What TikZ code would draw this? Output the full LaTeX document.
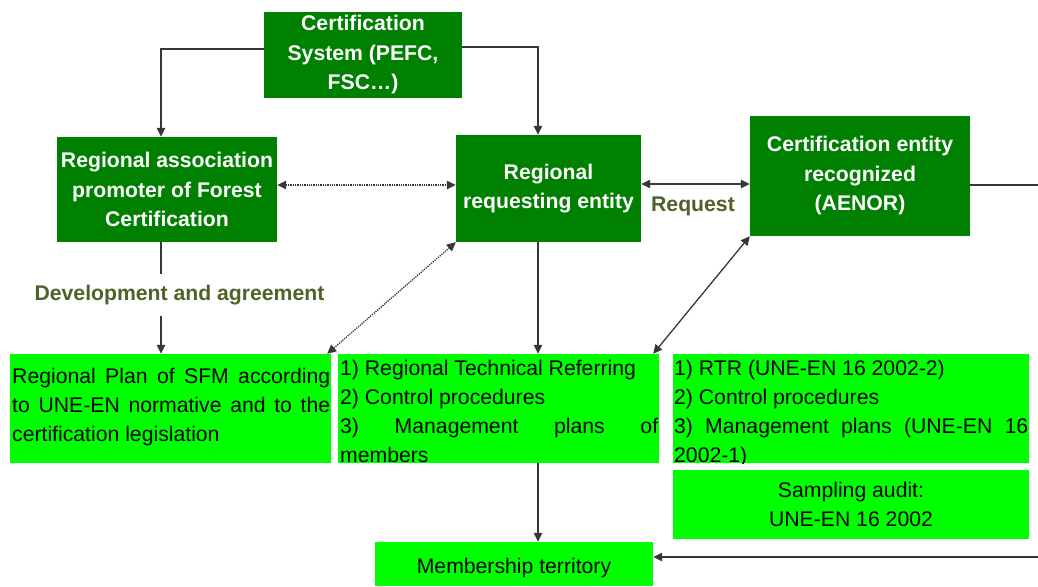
\documentclass[tikz,border=0pt]{standalone}
\usepackage{fontspec}
\setmainfont{Liberation Sans}
\usetikzlibrary{arrows.meta}
\definecolor{darkgreen}{RGB}{0,128,0}
\definecolor{lightgreen}{RGB}{0,255,0}
\definecolor{olivelabel}{RGB}{79,98,40}
\definecolor{linegray}{RGB}{55,55,55}

\begin{document}
\begin{tikzpicture}[x=1pt,y=-1pt,
  darkbox/.style={fill=darkgreen, text=white, inner sep=0pt, align=center,
    font=\fontsize{21.2}{29.5}\selectfont\bfseries},
  lightbox/.style={fill=lightgreen, inner sep=0pt, align=center,
    font=\fontsize{21.2}{29}\selectfont},
  boxtext/.style={inner sep=0pt, anchor=base west, align=justify,
    font=\fontsize{21.2}{29}\selectfont},
  flowlabel/.style={text=olivelabel, inner sep=0pt, anchor=base,
    font=\fontsize{21.2}{25}\selectfont\bfseries},
  tip/.tip={Triangle[length=9pt,width=8.5pt]},
  conn/.style={draw=linegray, line width=1.3pt},
  arr/.style={conn, -tip},
  biarr/.style={conn, tip-tip},
  dotbiarr/.style={biarr, densely dotted}]

\useasboundingbox (0,0) rectangle (1038,586);

% dark green entities
\node[darkbox, minimum width=198pt, minimum height=86pt] (cs) at (363,55)
  {Certification\\System (PEFC,\\FSC…)};
\node[darkbox, minimum width=220pt, minimum height=105pt] (assoc) at (167,189.5)
  {Regional association\\promoter of Forest\\Certification};
\node[darkbox, minimum width=185pt, minimum height=107pt] (req) at (548.5,188.5)
  {Regional\\requesting entity};
\node[darkbox, minimum width=220pt, minimum height=120pt] (cert) at (860,176)
  {Certification entity\\recognized\\(AENOR)};

% light green documents
\node[lightbox, minimum width=321pt, minimum height=109pt] (plan) at (170.5,408.5) {};
\node[lightbox, minimum width=321pt, minimum height=109pt] (mid) at (498.5,408.5) {};
\node[lightbox, minimum width=356pt, minimum height=109pt] (rtr) at (851,408.5) {};
\node[lightbox, minimum width=356pt, minimum height=69pt] (audit) at (851,504.5)
  {Sampling audit:\\UNE-EN 16 2002};
\node[lightbox, minimum width=278pt, minimum height=44pt, text height=18pt, text depth=0pt]
  (memb) at (514,564) {Membership territory};

\node[boxtext, text width=318pt] (plantext) at (12,383)
  {Regional Plan of SFM according\linebreak to UNE-EN normative and to the\linebreak certification legislation};
\begin{scope}
  \clip (mid.north west) rectangle (mid.south east);
  \node[boxtext, text width=318pt] (midtext) at (340,375)
    {1) Regional Technical Referring\\2) Control procedures\\3) Management plans of\linebreak members};
\end{scope}
\begin{scope}
  \clip (rtr.north west) rectangle (rtr.south east);
  \node[boxtext, text width=354pt] (rtrtext) at (674,375)
    {1) RTR (UNE-EN 16 2002-2)\\2) Control procedures\\3) Management plans (UNE-EN 16\linebreak 2002-1)};
\end{scope}

% connectors
\draw[arr] ([yshift=6pt]cs.west) -| ([xshift=-6pt]assoc.north);
\draw[arr] ([yshift=8pt]cs.east) -| ([xshift=-10.5pt]req.north);
\draw[dotbiarr] ([yshift=4.5pt]assoc.east) coordinate (a1) -- (a1 -| req.west);
\draw[biarr] ([yshift=4.5pt]req.east) coordinate (b1) -- (b1 -| cert.west);
\coordinate (outR) at (1038,185);
\draw[conn] (cert.east |- outR) -- (outR);
\draw[arr] ([xshift=-6pt]assoc.south) coordinate (c1) -- (c1 |- plan.north);
\node[flowlabel, fill=white, inner ysep=11pt, inner xsep=1pt] (devlabel) at (179.5,300.5)
  {Development and agreement};
\node[flowlabel] (reqlabel) at (693,211) {Request};
\draw[dotbiarr] ([xshift=-4pt]plan.north east) -- (req.south west);
\draw[biarr] ([xshift=-6pt]mid.north east) -- (cert.south west);
\draw[arr] ([xshift=-10.5pt]req.south) coordinate (d1) -- (d1 |- mid.north);
\draw[arr] (mid.south -| d1) -- (d1 |- memb.north);
\coordinate (inR) at (1038,557);
\draw[arr] (inR) -- (inR -| memb.east);
\end{tikzpicture}
\end{document}
